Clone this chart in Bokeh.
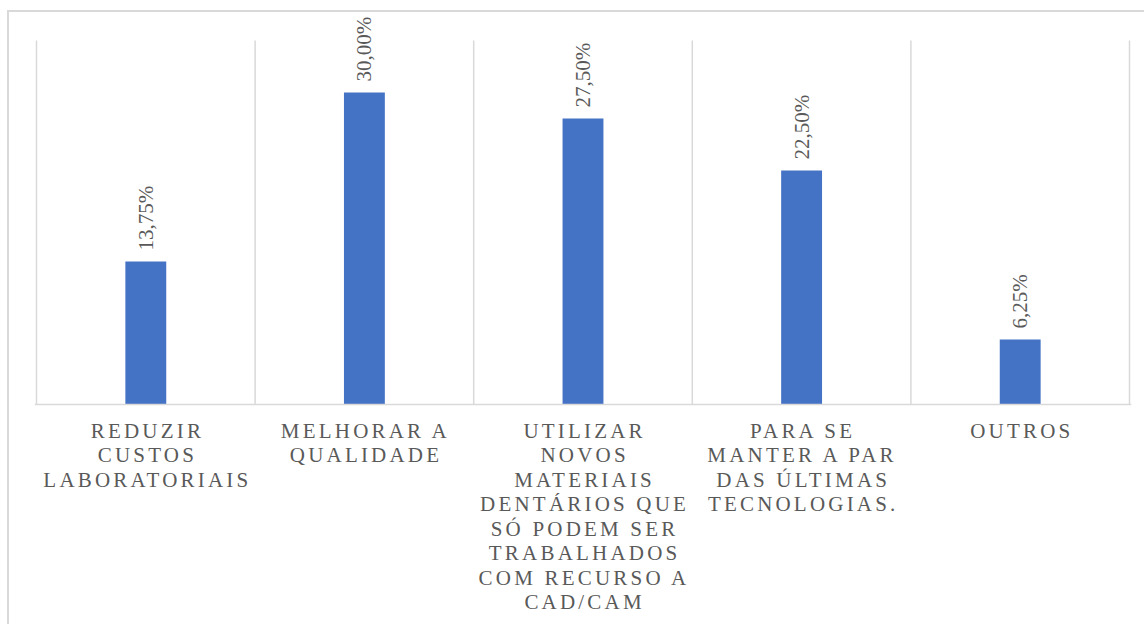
import math
from bokeh.plotting import figure
from bokeh.layouts import column
from bokeh.models import FactorRange, Range1d, LabelSet, ColumnDataSource, Span
from bokeh.core.properties import value
from bokeh.embed import file_html
from bokeh.resources import INLINE

# ---- data ----
categories = [
    "REDUZIR CUSTOS LABORATORIAIS",
    "MELHORAR A QUALIDADE",
    "UTILIZAR NOVOS MATERIAIS DENTÁRIOS QUE SÓ PODEM SER TRABALHADOS COM RECURSO A CAD/CAM",
    "PARA SE MANTER A PAR DAS ÚLTIMAS TECNOLOGIAS.",
    "OUTROS",
]
tick_label_lines = [
    ["REDUZIR", "CUSTOS", "LABORATORIAIS"],
    ["MELHORAR A", "QUALIDADE"],
    ["UTILIZAR", "NOVOS", "MATERIAIS", "DENTÁRIOS QUE", "SÓ PODEM SER",
     "TRABALHADOS", "COM RECURSO A", "CAD/CAM"],
    ["PARA SE", "MANTER A PAR", "DAS ÚLTIMAS", "TECNOLOGIAS."],
    ["OUTROS"],
]
values = [13.75, 30.00, 27.50, 22.50, 6.25]
value_labels = ["13,75%", "30,00%", "27,50%", "22,50%", "6,25%"]

# ---- layout constants (pixels) ----
W, H = 1144, 624
PLOT_L, PLOT_R, PLOT_T, PLOT_B = 36, 1129, 40, 404
Y_MAX = 35
H1 = 414
H2 = H - H1
PAD_PX = 2
GRAY = "#d9d9d9"
TEXT = "#595959"
FONT = "Liberation Serif"
SPACING = 3.2      # letter spacing of the category labels (px)
LINE_PITCH = 24.5
FIRST_LINE = 4

n = len(categories)
unit_px = (PLOT_R - PLOT_L) / n
pad_units = PAD_PX / unit_px
x_range = FactorRange(*categories, range_padding=2 * pad_units / n)

px_per_y = (PLOT_B - PLOT_T) / Y_MAX
y_range = Range1d(-(H1 - PLOT_B) / px_per_y, Y_MAX + PLOT_T / px_per_y)

# ---- main figure: bars, grid, value labels ----
p = figure(x_range=x_range, y_range=y_range, width=W, height=H1,
           output_backend="svg", toolbar_location=None,
           x_axis_location=None, y_axis_location=None,
           min_border=0, min_border_left=PLOT_L - PAD_PX,
           min_border_right=W - PLOT_R - PAD_PX, min_border_top=0, min_border_bottom=0)
p.outline_line_color = None
p.background_fill_color = None
p.border_fill_color = None
p.xgrid.visible = False
p.ygrid.visible = False

bounds = list(range(n + 1))
p.segment(x0=bounds, y0=[0] * len(bounds), x1=bounds, y1=[Y_MAX] * len(bounds),
          line_color=GRAY, line_width=1.5)
p.add_layout(Span(location=0, dimension="width", line_color=GRAY, line_width=1.5))

source = ColumnDataSource(data=dict(cat=categories, val=values, lab=value_labels))
p.vbar(x="cat", top="val", width=0.187, bottom=0, source=source,
       fill_color="#4472C4", line_color=None)

p.add_layout(LabelSet(x="cat", y="val", text="lab", source=source, angle=math.pi / 2,
                      text_align="left", text_baseline="middle", y_offset=11,
                      text_font=value(FONT), text_font_size="21px", text_color=TEXT))

# ---- category labels (letter-spaced) ----
lx, ltext, lxo, lyo = [], [], [], []
for cat, lines in zip(categories, tick_label_lines):
    for i, line in enumerate(lines):
        lx.append(cat)
        ltext.append(line)
        lxo.append(-(len(line) - 1) * SPACING / 2)
        lyo.append(FIRST_LINE + i * LINE_PITCH)
lab_src = ColumnDataSource(data=dict(x=lx, y=[1] * len(lx), text=ltext, xo=lxo, yo=lyo))

p2 = figure(x_range=x_range, y_range=Range1d(0, 1), width=W, height=H2,
            output_backend="svg", toolbar_location=None,
            x_axis_location=None, y_axis_location=None,
            min_border=0, min_border_left=PLOT_L - PAD_PX,
            min_border_right=W - PLOT_R - PAD_PX, min_border_top=0, min_border_bottom=0)
p2.outline_line_color = None
p2.background_fill_color = None
p2.border_fill_color = None
p2.xgrid.visible = False
p2.ygrid.visible = False
p2.text(x="x", y="y", text="text", x_offset="xo", y_offset="yo", source=lab_src,
        text_align="center", text_baseline="top",
        text_font=value(FONT), text_font_size="21px", text_color=TEXT)
p2.styles = {"letter-spacing": f"{SPACING}px"}

layout = column(p, p2, spacing=0)
layout.styles = {
    "background-color": "white",
    "background-image": f"linear-gradient({GRAY}, {GRAY}), linear-gradient({GRAY}, {GRAY})",
    "background-size": "100% 2px, 2px 100%",
    "background-position": "7px 10px, 7px 10px",
    "background-repeat": "no-repeat",
}

open("out.html", "w").write(file_html(layout, INLINE))
